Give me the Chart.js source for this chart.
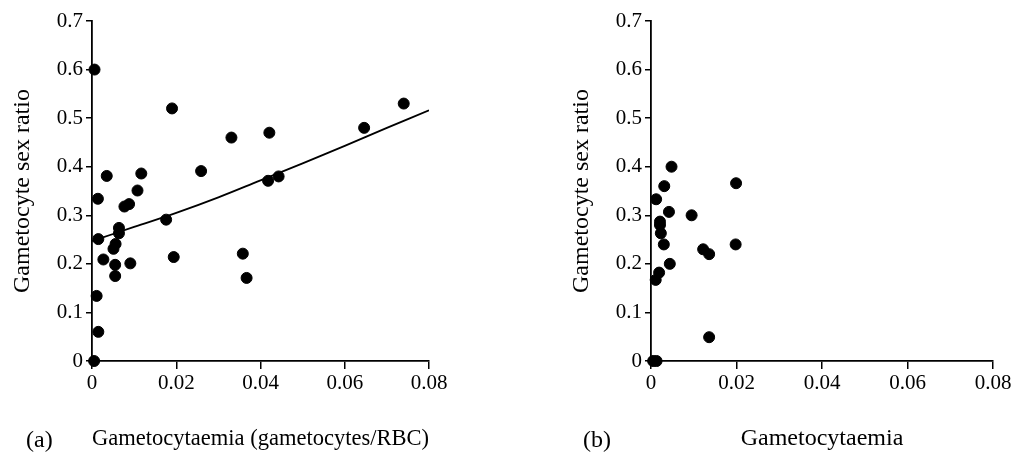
<!DOCTYPE html>
<html>
<head>
<meta charset="utf-8">
<script src="https://cdn.jsdelivr.net/npm/chart.js@4"></script>
<style>
  html, body { margin: 0; padding: 0; background: #fff; }
  body { width: 1023px; height: 453px; position: relative; overflow: hidden; }
  .panel { position: absolute; top: 0; height: 453px; }
  #panel-a { left: 0; width: 480px; }
  #panel-b { left: 559px; width: 464px; }
  .tag {
    position: absolute; top: 425px;
    font: 24px "Liberation Serif", "DejaVu Serif", serif;
    line-height: 28.8px; color: #000;
  }
</style>
</head>
<body>
<div class="panel" id="panel-a"><canvas id="chart-a"></canvas></div>
<div class="panel" id="panel-b"><canvas id="chart-b"></canvas></div>
<div class="tag" style="left:26px">(a)</div>
<div class="tag" style="left:583px">(b)</div>

<script>
'use strict';

/* ─── Data ──────────────────────────────────────────────────── */
const xTicks = [0, 0.02, 0.04, 0.06, 0.08];
const yTicks = [0, 0.1, 0.2, 0.3, 0.4, 0.5, 0.6, 0.7];

// (a) gametocytaemia (gametocytes/RBC) vs sex ratio
const aX = [0.0006, 0.019, 0.0331, 0.0421, 0.0646, 0.074, 0.0035, 0.0117, 0.0259, 0.0418,
            0.0443, 0.0014, 0.0108, 0.0077, 0.0088, 0.0176, 0.0064, 0.0064, 0.0015, 0.0056,
            0.0051, 0.0027, 0.0055, 0.0091, 0.0194, 0.0055, 0.0358, 0.0367, 0.0011, 0.0015,
            0.0005];
const aY = [0.60, 0.52, 0.46, 0.47, 0.48, 0.53, 0.381, 0.386, 0.391, 0.371,
            0.38, 0.334, 0.351, 0.318, 0.323, 0.291, 0.274, 0.263, 0.251, 0.241,
            0.231, 0.209, 0.198, 0.201, 0.214, 0.175, 0.221, 0.171, 0.134, 0.06,
            0];

// fitted curve for (a)
const fitX = [0, 0.01, 0.02, 0.03, 0.04, 0.05, 0.06, 0.07, 0.08];
const fitY = [0.247, 0.276, 0.305, 0.337, 0.372, 0.407, 0.443, 0.480, 0.516];

// (b) gametocytaemia vs sex ratio
const bX = [0.0048, 0.0031, 0.0199, 0.0012, 0.0042, 0.0095, 0.0021, 0.0021, 0.0023, 0.003,
            0.0122, 0.0136, 0.0198, 0.0044, 0.0019, 0.0011, 0.0136, 0.0005, 0.0013];
const bY = [0.40, 0.36, 0.366, 0.333, 0.307, 0.30, 0.287, 0.28, 0.263, 0.24,
            0.23, 0.22, 0.24, 0.20, 0.182, 0.167, 0.049, 0, 0];

const yTitle = 'Gametocyte sex ratio';
const xTitleA = 'Gametocytaemia (gametocytes/RBC)';
const xTitleB = 'Gametocytaemia';

/* ─── Helpers ───────────────────────────────────────────────── */
const SERIF = '"Liberation Serif", "DejaVu Serif", serif';
const toPoints = (xs, ys) => xs.map((x, i) => ({ x, y: ys[i] }));

function axisCommon(ticks, extra) {
  return Object.assign({
    type: 'linear',
    min: ticks[0],
    max: ticks[ticks.length - 1],
    border: { display: true, color: '#000', width: 1.8 },
    grid: { drawOnChartArea: false, drawTicks: true, color: '#000', lineWidth: 1.5 },
    afterBuildTicks: s => { s.ticks = ticks.map(v => ({ value: v })); },
    ticks: {
      color: '#000',
      font: { family: SERIF, size: 21 },
      callback: v => String(v),
    },
  }, extra);
}

/* ─── Panel builder ─────────────────────────────────────────── */
function makePanel(canvasId, xs, ys, xTitle, padRight, fit) {
  const datasets = [{
    type: 'scatter',
    data: toPoints(xs, ys),
    backgroundColor: '#000',
    borderColor: '#000',
    pointRadius: 5.5,
    pointHoverRadius: 5.5,
    clip: false,
    order: 1,
  }];

  if (fit) {
    datasets.push({
      type: 'line',
      data: toPoints(fit.x, fit.y),
      borderColor: '#000',
      borderWidth: 1.8,
      pointRadius: 0,
      tension: 0.4,
      fill: false,
      order: 2,
    });
  }

  new Chart(document.getElementById(canvasId), {
    type: 'scatter',
    data: { datasets },
    options: {
      responsive: true,
      maintainAspectRatio: false,
      animation: false,
      layout: { padding: { top: 21, right: padRight, left: 0, bottom: 0 } },
      plugins: { legend: { display: false }, tooltip: { enabled: false } },
      scales: {
        x: axisCommon(xTicks, {
          position: 'bottom',
          grid: { drawOnChartArea: false, drawTicks: true, color: '#000', lineWidth: 1.5, tickLength: 8 },
          ticks: { color: '#000', font: { family: SERIF, size: 21 }, padding: 2, maxRotation: 0,
                   callback: v => String(v) },
          title: { display: true, text: xTitle, color: '#000',
                   font: { family: SERIF, size: 24 }, padding: { top: 0, bottom: 0 } },
          afterFit: s => { s.height = 92; },
        }),
        y: axisCommon(yTicks, {
          position: 'left',
          grid: { drawOnChartArea: false, drawTicks: true, color: '#000', lineWidth: 1.5, tickLength: 6 },
          ticks: { color: '#000', font: { family: SERIF, size: 21 }, padding: 3,
                   callback: v => String(v) },
          title: { display: true, text: yTitle, color: '#000',
                   font: { family: SERIF, size: 24 }, padding: { top: 8, bottom: 0 } },
          afterFit: s => { s.width = 92; },
        }),
      },
    },
  });
}

/* ─── Draw ──────────────────────────────────────────────────── */
makePanel('chart-a', aX, aY, xTitleA, 51, { x: fitX, y: fitY });
makePanel('chart-b', bX, bY, xTitleB, 30, null);
</script>
</body>
</html>
